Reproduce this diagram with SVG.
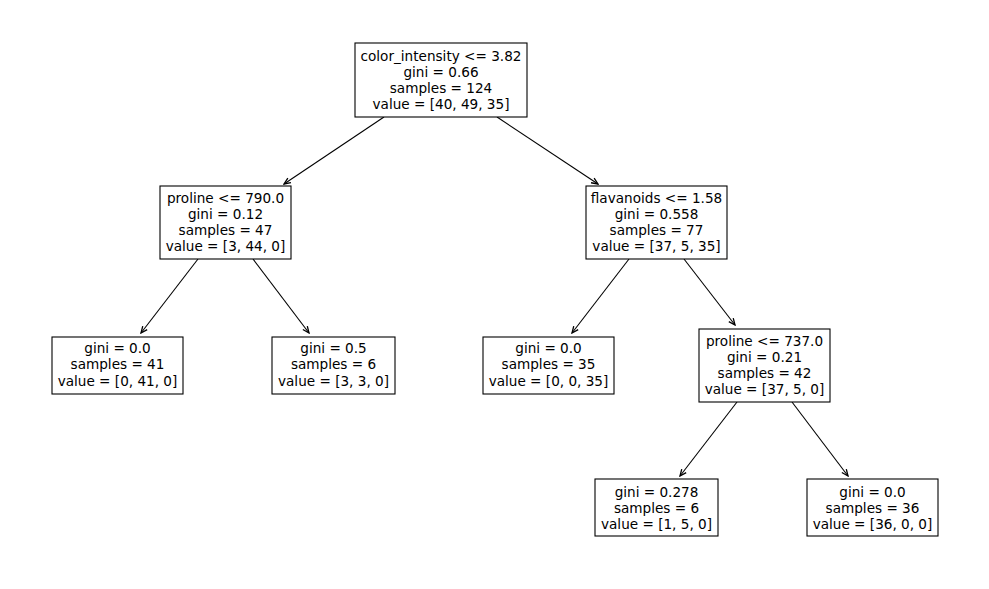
<svg xmlns="http://www.w3.org/2000/svg" width="989" height="589" viewBox="0 0 989 589">
<style>
.box{fill:#fff;stroke:#000;stroke-width:1.1}
text{font-family:"DejaVu Sans",sans-serif;font-size:13.6px;fill:#000;text-anchor:middle;dominant-baseline:central}
.edge{stroke:#000;stroke-width:1.1;fill:none;marker-end:url(#ah)}
</style>
<defs>
<marker id="ah" viewBox="-8 -4 9 8" refX="0" refY="0" markerWidth="9" markerHeight="8" markerUnits="userSpaceOnUse" orient="auto">
<path d="M-6.5,-2.8 L0,0 L-6.5,2.8" fill="none" stroke="#000" stroke-width="1.3"/>
</marker>
</defs>
<rect width="989" height="589" fill="#fff"/>
<g id="connectors">
<line class="edge" x1="384" y1="117" x2="284" y2="184"/>
<line class="edge" x1="497" y1="117" x2="598" y2="184"/>
<line class="edge" x1="198" y1="259" x2="141" y2="333"/>
<line class="edge" x1="253" y1="259" x2="309" y2="333"/>
<line class="edge" x1="629" y1="259" x2="572" y2="333"/>
<line class="edge" x1="684" y1="259" x2="735" y2="325"/>
<line class="edge" x1="737" y1="402" x2="680" y2="476"/>
<line class="edge" x1="792" y1="402" x2="848" y2="476"/>
</g>
<g id="n0">
<rect class="box" x="355" y="43" width="172" height="74"/>
<text x="441" y="56">color_intensity &lt;= 3.82</text>
<text x="441" y="72">gini = 0.66</text>
<text x="441" y="88">samples = 124</text>
<text x="441" y="104">value = [40, 49, 35]</text>
</g>
<g id="n1">
<rect class="box" x="160" y="186" width="131" height="73"/>
<text x="225.5" y="198">proline &lt;= 790.0</text>
<text x="225.5" y="214">gini = 0.12</text>
<text x="225.5" y="230">samples = 47</text>
<text x="225.5" y="246">value = [3, 44, 0]</text>
</g>
<g id="n2">
<rect class="box" x="586" y="186" width="141" height="73"/>
<text x="656.5" y="198">flavanoids &lt;= 1.58</text>
<text x="656.5" y="214">gini = 0.558</text>
<text x="656.5" y="230">samples = 77</text>
<text x="656.5" y="246">value = [37, 5, 35]</text>
</g>
<g id="n3">
<rect class="box" x="52" y="337" width="131" height="57"/>
<text x="117.5" y="348">gini = 0.0</text>
<text x="117.5" y="364">samples = 41</text>
<text x="117.5" y="381">value = [0, 41, 0]</text>
</g>
<g id="n4">
<rect class="box" x="272" y="337" width="123" height="57"/>
<text x="333.5" y="348">gini = 0.5</text>
<text x="333.5" y="364">samples = 6</text>
<text x="333.5" y="381">value = [3, 3, 0]</text>
</g>
<g id="n5">
<rect class="box" x="483" y="337" width="131" height="57"/>
<text x="548.5" y="348">gini = 0.0</text>
<text x="548.5" y="364">samples = 35</text>
<text x="548.5" y="381">value = [0, 0, 35]</text>
</g>
<g id="n6">
<rect class="box" x="699" y="329" width="131" height="73"/>
<text x="764.5" y="341">proline &lt;= 737.0</text>
<text x="764.5" y="357">gini = 0.21</text>
<text x="764.5" y="373">samples = 42</text>
<text x="764.5" y="389">value = [37, 5, 0]</text>
</g>
<g id="n7">
<rect class="box" x="595" y="479" width="123" height="57"/>
<text x="656.5" y="492">gini = 0.278</text>
<text x="656.5" y="508">samples = 6</text>
<text x="656.5" y="524">value = [1, 5, 0]</text>
</g>
<g id="n8">
<rect class="box" x="807" y="479" width="131" height="57"/>
<text x="872.5" y="492">gini = 0.0</text>
<text x="872.5" y="508">samples = 36</text>
<text x="872.5" y="524">value = [36, 0, 0]</text>
</g>
</svg>
